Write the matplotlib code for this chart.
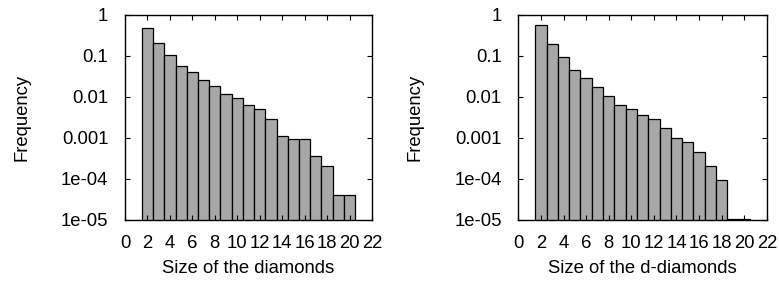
import numpy as np
import matplotlib.pyplot as plt
from matplotlib import rc
from matplotlib.ticker import LogLocator, FixedLocator

rc('font', **{'family': 'sans-serif', 'sans-serif': ['Liberation Sans'], 'size': 13.3})

sizes = np.arange(2, 21)

# frequencies
freq_diamonds = [0.49, 0.204, 0.104, 0.057, 0.040, 0.0255, 0.0182, 0.0121, 0.0095,
                 0.0063, 0.0050, 0.00285, 0.00114, 0.00093, 0.00093, 0.00037,
                 0.000204, 4.07e-5, 4.07e-5]
freq_ddiamonds = [0.57, 0.196, 0.093, 0.0447, 0.0285, 0.0172, 0.0108, 0.0065, 0.0051,
                  0.00357, 0.00285, 0.00179, 0.00098, 0.00078, 0.000464, 0.000207,
                  9.3e-5, 1.05e-5, 1.05e-5]

xlabels = ["Size of the diamonds", "Size of the d-diamonds"]
ytick_vals = [1e-5, 1e-4, 1e-3, 1e-2, 1e-1, 1]
ytick_labels = ["1e-05", "1e-04", "0.001", "0.01", "0.1", "1"]

fig = plt.figure(figsize=(7.79, 2.82), dpi=100)
fig.patch.set_facecolor('w')

ax_pos = [[0.1605, 0.22, 0.317, 0.727], [0.6654, 0.22, 0.319, 0.727]]

for pos, freq, xlab in zip(ax_pos, [freq_diamonds, freq_ddiamonds], xlabels):
    ax = fig.add_axes(pos)
    ax.bar(sizes, freq, width=1.0, bottom=1e-7, color='#a8a8a8', edgecolor='k', linewidth=0.9)
    ax.set_yscale('log')
    ax.set_ylim(1e-5, 1)
    ax.set_xlim(0, 22)
    ax.xaxis.set_major_locator(FixedLocator(np.arange(0, 23, 2)))
    ax.set_yticks(ytick_vals)
    ax.set_yticklabels(ytick_labels)
    ax.yaxis.set_minor_locator(LogLocator(base=10, subs=(2, 5, 8)))
    ax.tick_params(which='both', direction='in', top=True, right=True)
    ax.tick_params(axis='y', pad=12)
    ax.tick_params(axis='x', pad=10.5)
    ax.tick_params(which='major', length=3.5, width=0.8)
    ax.tick_params(which='minor', length=2, width=0.6)
    ax.tick_params(axis='x', which='minor', top=False, bottom=False)
    for sp in ax.spines.values():
        sp.set_linewidth(1.0)
    ax.set_xlabel(xlab, labelpad=6)
    ax.set_ylabel("Frequency", labelpad=22)

fig.savefig("out.png", dpi=100)
